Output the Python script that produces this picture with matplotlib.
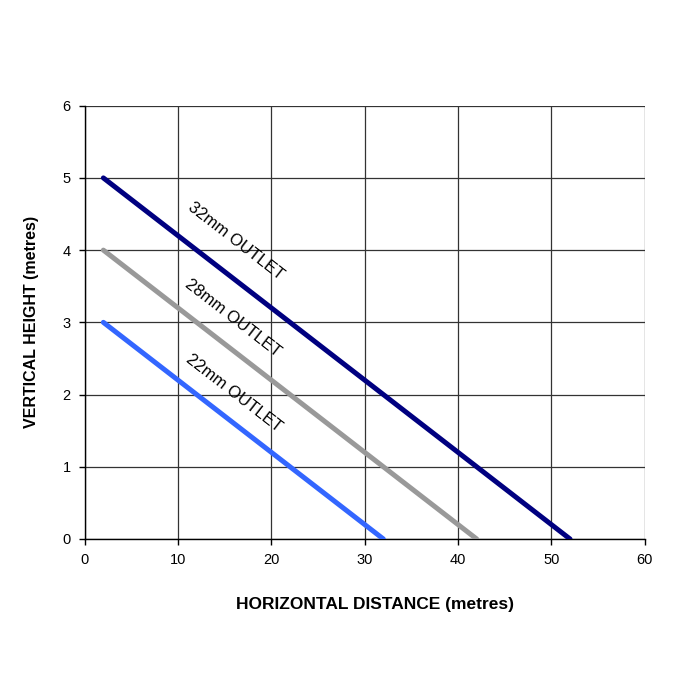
import matplotlib
matplotlib.use("Agg")
import matplotlib.pyplot as plt
import numpy as np

plt.rcParams['font.family'] = ['Liberation Sans', 'DejaVu Sans']

series_names = ["32mm OUTLET", "28mm OUTLET", "22mm OUTLET"]
x_values = [[2, 52], [2, 42], [2, 32]]
y_values = [[5, 0], [4, 0], [3, 0]]
colors = ["#000080", "#999999", "#3366FF"]
label_pos = [(16.2, 4.12), (15.9, 3.06), (16.0, 2.02)]

fig = plt.figure(figsize=(7, 7), dpi=100)
ax = fig.add_axes([0.121, 0.23, 0.8, 0.619])

for xs, ys, c in zip(x_values, y_values, colors):
    ax.plot(xs, ys, color=c, lw=3.6, solid_capstyle='round', zorder=3)

ax.set_xlim(0, 60)
ax.set_ylim(0, 6)
ax.set_xticks(np.arange(0, 61, 10))
ax.set_yticks(np.arange(0, 7, 1))
ax.grid(True, color='#333333', lw=0.9)
ax.set_axisbelow(True)
for s in ['top', 'right']:
    ax.spines[s].set_visible(False)
for s in ['left', 'bottom']:
    ax.spines[s].set_linewidth(1.0)
ax.tick_params(axis='both', labelsize=10.5, length=4, width=1, pad=6)

ax.set_xlabel("HORIZONTAL DISTANCE (metres)", fontsize=12.5, fontweight='bold')
ax.xaxis.set_label_coords(0.518, -0.133)
ax.set_ylabel("VERTICAL HEIGHT (metres)", fontsize=11.5, fontweight='bold', labelpad=17)

fig.canvas.draw()
p0 = ax.transData.transform((2, 5))
p1 = ax.transData.transform((52, 0))
ang = np.degrees(np.arctan2(p1[1] - p0[1], p1[0] - p0[0]))
for name, (lx, ly) in zip(series_names, label_pos):
    ax.text(lx, ly, name, rotation=ang, rotation_mode='anchor', ha='center', va='center',
            fontsize=12, color='black', zorder=4)

fig.savefig("out.png", dpi=100)
